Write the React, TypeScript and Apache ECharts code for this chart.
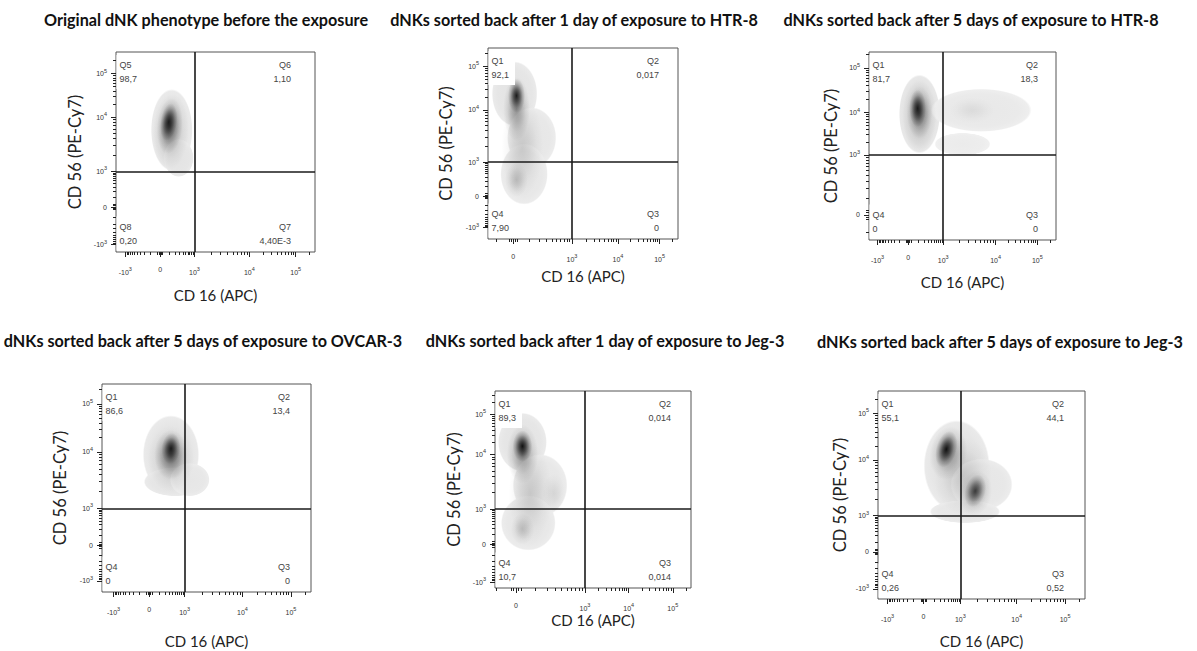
import React, { useEffect, useRef } from "react";
import * as echarts from "echarts";

// ---------- DATA ----------
const panelTitles = [
  "Original dNK phenotype before the exposure",
  "dNKs sorted back after 1 day of exposure to HTR-8",
  "dNKs sorted back after 5 days of exposure to HTR-8",
  "dNKs sorted back after 5 days of exposure to OVCAR-3",
  "dNKs sorted back after 1 day of exposure to Jeg-3",
  "dNKs sorted back after 5 days of exposure to Jeg-3",
];

const xAxisTitle = "CD 16 (APC)";
const yAxisTitle = "CD 56 (PE-Cy7)";

// quadrant gate (both channels) in raw fluorescence units
const gateCD16 = 1000;
const gateCD56 = 1000;

// quadrant names / percentages, order: top-left, top-right, bottom-right, bottom-left
const quadrantNames = [
  ["Q5", "Q6", "Q7", "Q8"],
  ["Q1", "Q2", "Q3", "Q4"],
  ["Q1", "Q2", "Q3", "Q4"],
  ["Q1", "Q2", "Q3", "Q4"],
  ["Q1", "Q2", "Q3", "Q4"],
  ["Q1", "Q2", "Q3", "Q4"],
];
const quadrantValues = [
  ["98,7", "1,10", "4,40E-3", "0,20"],
  ["92,1", "0,017", "0", "7,90"],
  ["81,7", "18,3", "0", "0"],
  ["86,6", "13,4", "0", "0"],
  ["89,3", "0,014", "0,014", "10,7"],
  ["55,1", "44,1", "0,52", "0,26"],
];

// biexponential display scale of each axis: [raw value, display position 0..100]
const xScaleTicks = [
  [[-1000, 4.7], [0, 22.2], [1000, 39.4], [10000, 67], [100000, 90.3]],
  [[0, 13.2], [1000, 44.2], [10000, 68.4], [100000, 90.3]],
  [[-1000, 4.6], [0, 21], [1000, 39.7], [10000, 67.7], [100000, 90]],
  [[-1000, 5.5], [0, 22.6], [1000, 39.5], [10000, 67.2], [100000, 90.4]],
  [[0, 10.7], [1000, 45.9], [10000, 68.2], [100000, 90.7]],
  [[-1000, 4.6], [0, 22], [1000, 39.8], [10000, 67], [100000, 90.4]],
];
const yScaleTicks = [
  [[-1000, 3.7], [0, 22.5], [1000, 40.3], [10000, 67.5], [100000, 89.2]],
  [[-1000, 5.9], [0, 22.5], [1000, 40.2], [10000, 67.6], [100000, 90.4]],
  [[0, 13.3], [1000, 45.3], [10000, 67.8], [100000, 91.5]],
  [[-1000, 5.3], [0, 22.4], [1000, 40.2], [10000, 67.4], [100000, 90.4]],
  [[-1000, 3], [0, 22.2], [1000, 40], [10000, 67.8], [100000, 88.1]],
  [[-1000, 4.9], [0, 22.6], [1000, 40.1], [10000, 66.9], [100000, 89.3]],
];

// density populations in display units:
// [cx, cy, spreadX, spreadY, density, outerContour(1)/inner gradient(0), tilt deg]
const density1 = [
  [28, 61, 10.5, 20.5, 0.11, 1, 0],
  [31.5, 47, 7.5, 9.5, 0.11, 1, 0],
  [27.5, 60, 9, 19, 0.22, 0, 3],
  [27, 63, 6.5, 14, 0.5, 0, 5],
  [26.5, 65, 4.2, 9.5, 0.75, 0, 8],
];
const density2 = [
  [14, 76, 12, 17, 0.11, 1, 0],
  [23, 53, 13, 16, 0.1, 1, 0],
  [19, 34, 12.5, 16, 0.1, 1, 0],
  [18, 48, 11, 26, 0.14, 0, 0],
  [15, 68, 7, 17, 0.35, 0, 0],
  [15, 75, 4.5, 9, 0.85, 0, 0],
  [15, 31, 6, 9, 0.18, 0, 0],
];
const density3 = [
  [27, 67, 11, 21, 0.12, 1, 0],
  [60, 69, 27, 11.5, 0.09, 1, 0],
  [50, 51, 15, 6, 0.08, 1, 0],
  [55, 69, 12, 7, 0.06, 0, 0],
  [27, 66, 9, 19, 0.25, 0, 0],
  [27, 68, 7, 14, 0.35, 0, 0],
  [26, 70, 4.5, 10, 0.8, 0, 0],
];
const density4 = [
  [33, 66, 13.5, 19, 0.11, 1, 0],
  [35, 53, 15, 7, 0.11, 1, 0],
  [42, 54, 9.5, 8, 0.1, 1, 0],
  [33, 64, 11, 16, 0.2, 0, 0],
  [33, 66, 8, 12, 0.45, 0, 0],
  [33, 69, 4.5, 7.5, 0.8, 0, 5],
];
const density5 = [
  [14, 74, 12.5, 15, 0.11, 1, 0],
  [23, 52, 14, 16, 0.1, 1, 0],
  [17, 33, 14, 14, 0.1, 1, 0],
  [18, 48, 11, 26, 0.14, 0, 0],
  [14, 68, 8, 15, 0.35, 0, 0],
  [14, 72, 5, 8, 0.9, 0, 0],
  [14, 30, 6, 8, 0.18, 0, 0],
  [30, 48, 6, 10, 0.08, 0, 0],
];
const density6 = [
  [38, 64, 16, 22, 0.11, 1, 0],
  [50, 55, 15, 12.5, 0.1, 1, 0],
  [42, 42, 17, 5.5, 0.1, 1, 0],
  [41, 59, 14, 19, 0.15, 0, 0],
  [34, 70, 9, 13, 0.35, 0, 10],
  [33, 72, 5, 9, 0.9, 0, 15],
  [47, 51, 8, 11, 0.25, 0, 10],
  [47, 52, 5, 8, 0.65, 0, 15],
];
const densities = [density1, density2, density3, density4, density5, density6];

// ---------- LAYOUT ----------
const layout = [
  { left: 116, top: 52, width: 199, height: 200, tx: 206, ty: 19, xGap: 35, yGap: 33, rIn: 21 },
  { left: 488, top: 48, width: 190, height: 191, tx: 574, ty: 19, xGap: 29, yGap: 34, rIn: 16 },
  { left: 869, top: 52, width: 187, height: 188, tx: 971, ty: 19, xGap: 34, yGap: 30, rIn: 15 },
  { left: 102, top: 384, width: 209, height: 208, tx: 203, ty: 340, xGap: 41, yGap: 34, rIn: 18 },
  { left: 495, top: 391, width: 196, height: 197, tx: 605, ty: 340, xGap: 19, yGap: 33, rIn: 17 },
  { left: 878, top: 391, width: 207, height: 208, tx: 1000, ty: 341, xGap: 34, yGap: 30, rIn: 18 },
];

const LABEL_FONT = '"Liberation Sans", Arial, sans-serif';
const TITLE_FONT = 'Lato, "Open Sans", sans-serif';

function posOf(ticks: number[][], v: number): number | undefined {
  const t = ticks.find((d) => d[0] === v);
  return t ? t[1] : undefined;
}

function minorTickPositions(ticks: number[][]): number[] {
  const p0 = posOf(ticks, 0)!;
  const p1 = posOf(ticks, 1000)!;
  const p4 = posOf(ticks, 10000)!;
  const p5 = posOf(ticks, 100000)!;
  const pnRaw = posOf(ticks, -1000);
  const pn = pnRaw === undefined ? p0 - (p1 - p0) : pnRaw;
  const out: number[] = [];
  for (const m of [10, 20, 100, 200, 300, 400, 500, 600, 700, 800, 900]) {
    const f = Math.log10(1 + (9 * m) / 1000);
    out.push(p0 + (p1 - p0) * f, p0 - (p0 - pn) * f);
  }
  const decades = [
    [p1, p4],
    [p4, p5],
    [p5, p5 + (p5 - p4)],
  ];
  for (const [a, b] of decades) for (let k = 2; k <= 9; k++) out.push(a + (b - a) * Math.log10(k));
  return out.filter((p) => p > 0.5 && p < 99.5);
}

function tickLabel(ticks: number[][]) {
  return (val: number) => {
    const t = ticks.find((d) => Math.abs(d[1] - val) < 0.001);
    if (!t) return "";
    const v = t[0];
    if (v === 0) return "0";
    const e = Math.round(Math.log10(Math.abs(v)));
    return (v < 0 ? "-10" : "10") + "{s|" + e + "}";
  };
}

function gray(a: number, alpha: number) {
  const g = Math.round(255 * (1 - a));
  return `rgba(${g},${g},${g},${alpha})`;
}

function buildOption() {
  const grid: any[] = [];
  const xAxis: any[] = [];
  const yAxis: any[] = [];
  const series: any[] = [];
  const graphic: any[] = [];

  layout.forEach((L, i) => {
    grid.push({
      left: L.left,
      top: L.top,
      width: L.width,
      height: L.height,
      show: true,
      borderColor: "#555",
      borderWidth: 1,
      backgroundColor: "transparent",
    });
    const xt = xScaleTicks[i];
    const yt = yScaleTicks[i];
    const labelRich = {
      s: { fontSize: 5.5, padding: [0, 0, 6, 0], color: "#333", fontFamily: LABEL_FONT },
    };
    xAxis.push({
      gridIndex: i,
      type: "value",
      min: 0,
      max: 100,
      position: "bottom",
      axisLine: { show: false },
      splitLine: { show: false },
      axisTick: { show: true, inside: false, length: 5, customValues: xt.map((d) => d[1]), lineStyle: { color: "#222", width: 1 } },
      axisLabel: {
        customValues: xt.map((d) => d[1]),
        formatter: tickLabel(xt),
        margin: 14,
        fontSize: 7,
        color: "#333",
        fontFamily: LABEL_FONT,
        rich: labelRich,
      },
      name: xAxisTitle,
      nameLocation: "middle",
      nameGap: L.xGap,
      nameTextStyle: { fontFamily: TITLE_FONT, fontSize: 15, color: "#222" },
    });
    xAxis.push({
      gridIndex: i,
      type: "value",
      min: 0,
      max: 100,
      position: "bottom",
      axisLine: { show: false },
      splitLine: { show: false },
      axisLabel: { show: false },
      axisTick: { show: true, inside: false, length: 3, customValues: minorTickPositions(xt), lineStyle: { color: "#222", width: 1 } },
    });
    yAxis.push({
      gridIndex: i,
      type: "value",
      min: 0,
      max: 100,
      position: "left",
      axisLine: { show: false },
      splitLine: { show: false },
      axisTick: { show: true, inside: false, length: 5, customValues: yt.map((d) => d[1]), lineStyle: { color: "#222", width: 1 } },
      axisLabel: {
        customValues: yt.map((d) => d[1]),
        formatter: tickLabel(yt),
        margin: 9,
        fontSize: 7,
        color: "#333",
        fontFamily: LABEL_FONT,
        rich: labelRich,
      },
      name: yAxisTitle,
      nameLocation: "middle",
      nameGap: L.yGap,
      nameTextStyle: { fontFamily: TITLE_FONT, fontSize: 16.5, color: "#222" },
    });
    yAxis.push({
      gridIndex: i,
      type: "value",
      min: 0,
      max: 100,
      position: "left",
      axisLine: { show: false },
      splitLine: { show: false },
      axisLabel: { show: false },
      axisTick: { show: true, inside: false, length: 3, customValues: minorTickPositions(yt), lineStyle: { color: "#222", width: 1 } },
    });

    // density plot
    series.push({
      type: "custom",
      name: "density " + (i + 1),
      coordinateSystem: "cartesian2d",
      xAxisIndex: 2 * i,
      yAxisIndex: 2 * i,
      silent: true,
      clip: true,
      data: densities[i],
      renderItem: (params: any, api: any) => {
        const c = api.coord([api.value(0), api.value(1)]);
        const s = api.size([api.value(2), api.value(3)]);
        const a = api.value(4);
        const hard = api.value(5);
        const rot = api.value(6);
        const k = (f: number) => `rgba(0,0,0,${(a * f).toFixed(3)})`;
        const stops = hard
          ? [
              { offset: 0, color: gray(a, 1) },
              { offset: 0.75, color: gray(a * 0.9, 1) },
              { offset: 0.95, color: gray(a * 0.75, 1) },
              { offset: 1, color: gray(a * 0.65, 0) },
            ]
          : [
              { offset: 0, color: k(1) },
              { offset: 0.35, color: k(0.65) },
              { offset: 0.7, color: k(0.22) },
              { offset: 1, color: k(0) },
            ];
        return {
          type: "ellipse",
          x: c[0],
          y: c[1],
          rotation: (-rot * Math.PI) / 180,
          shape: { cx: 0, cy: 0, rx: s[0], ry: s[1] },
          style: {
            fill: new echarts.graphic.RadialGradient(0.5, 0.5, 0.5, stops),
            blend: hard ? "darken" : undefined,
          },
        };
      },
    });

    // quadrant gate + statistics
    const names = quadrantNames[i];
    const vals = quadrantValues[i];
    series.push({
      type: "custom",
      name: "quadrants " + (i + 1),
      coordinateSystem: "cartesian2d",
      xAxisIndex: 2 * i,
      yAxisIndex: 2 * i,
      silent: true,
      data: [
        [0, 100],
        [100, 100],
        [100, 0],
        [0, 0],
      ],
      renderItem: (params: any, api: any) => {
        const cx = api.value(0);
        const cy = api.value(1);
        const p = api.coord([cx, cy]);
        const right = cx > 50;
        const top = cy > 50;
        const j = params.dataIndex;
        return {
          type: "text",
          x: p[0] + (right ? -L.rIn + 3 : 0.5),
          y: p[1] + (top ? 3 : -35.5),
          style: {
            text: names[j] + "\n" + vals[j],
            align: right ? "right" : "left",
            verticalAlign: "top",
            fontFamily: LABEL_FONT,
            fontSize: 9,
            lineHeight: 14,
            fill: "#444",
            backgroundColor: "#fff",
            padding: [3, 6, 3, 3],
          },
        };
      },
      markLine: {
        silent: true,
        symbol: ["none", "none"],
        label: { show: false },
        lineStyle: { color: "#1a1a1a", width: 1.6, type: "solid" },
        data: [{ xAxis: posOf(xScaleTicks[i], gateCD16) }, { yAxis: posOf(yScaleTicks[i], gateCD56) }],
      },
    });

    graphic.push({
      type: "text",
      x: L.tx,
      y: L.ty,
      style: {
        text: panelTitles[i],
        align: "center",
        verticalAlign: "middle",
        fontFamily: TITLE_FONT,
        fontWeight: "bold",
        fontSize: 16.2,
        fill: "#111",
      },
    });
  });

  return {
    animation: false,
    backgroundColor: "#fff",
    grid,
    xAxis,
    yAxis,
    series,
    graphic,
  };
}

export default function App() {
  const ref = useRef<HTMLDivElement>(null);
  useEffect(() => {
    const chart = echarts.init(ref.current!, null, { renderer: "svg" });
    chart.setOption(buildOption() as any);
    return () => chart.dispose();
  }, []);
  return (
    <div
      ref={ref}
      style={{ position: "absolute", left: 0, top: 0, width: 1197, height: 651, background: "#fff" }}
    />
  );
}
